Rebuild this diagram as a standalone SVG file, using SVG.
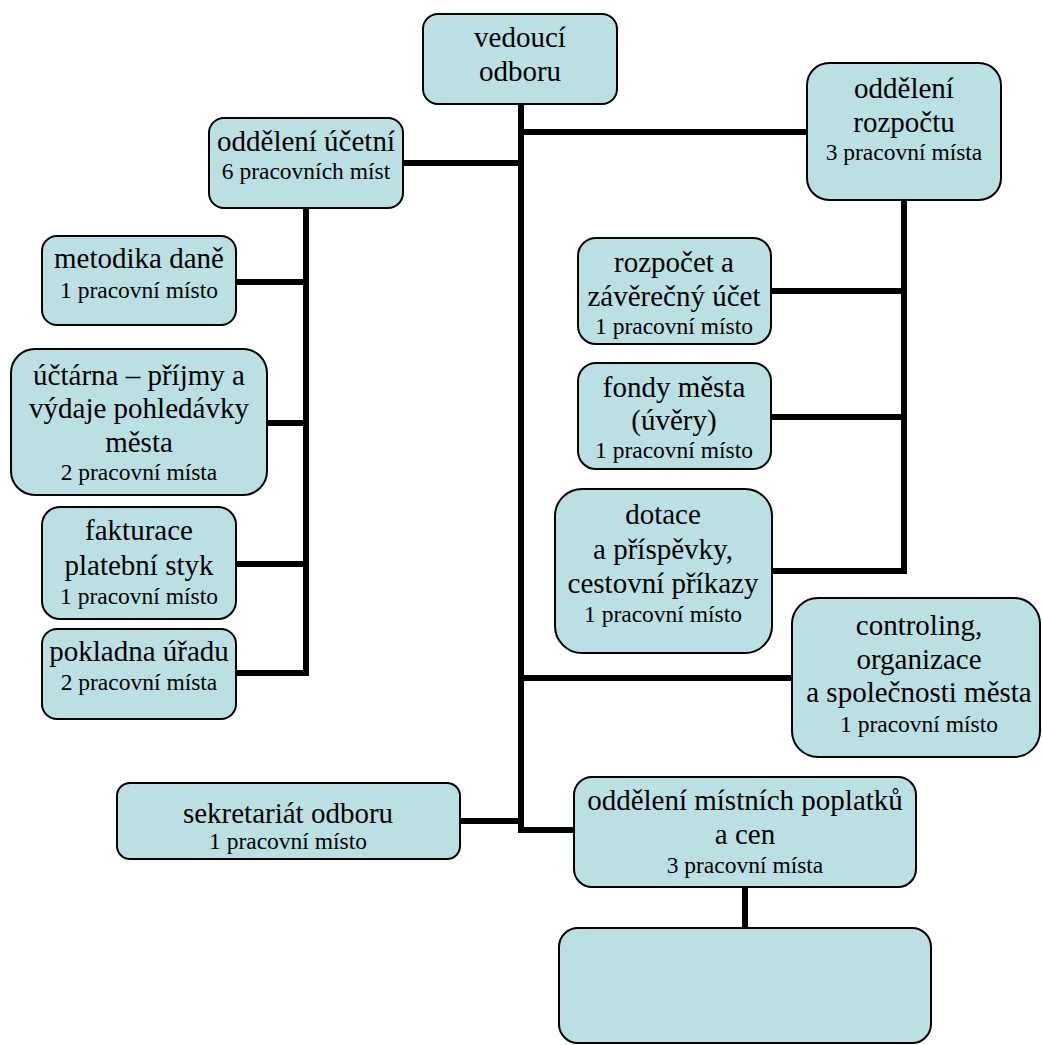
<svg xmlns="http://www.w3.org/2000/svg" width="1042" height="1045" viewBox="0 0 1042 1045">
<style>
.box{fill:#BBE0E3;stroke:#000;stroke-width:2}
.c{fill:none;stroke:#000;stroke-width:6;stroke-linejoin:miter;stroke-linecap:butt}
.lbl{fill:#000;text-anchor:middle;font-family:'Liberation Serif','Times New Roman',serif}
.big{font-size:29px}
.small{font-size:23.5px}
</style>
<rect width="1042" height="1045" fill="#fff"/>
<g id="connectors">
<path class="c" d="M521 104 V830 H574"/>
<path class="c" d="M521 132 H807"/>
<path class="c" d="M403 163 H521"/>
<path class="c" d="M306 208 V673 H236"/>
<path class="c" d="M236 282 H306"/>
<path class="c" d="M267 423 H306"/>
<path class="c" d="M236 564 H306"/>
<path class="c" d="M904 200 V571 H772"/>
<path class="c" d="M771 291 H904"/>
<path class="c" d="M771 417 H904"/>
<path class="c" d="M521 678 H792"/>
<path class="c" d="M460 821 H521"/>
<path class="c" d="M745 887 V928"/>
</g>
<g id="vedouci">
<rect class="box" x="423" y="14" width="194" height="90" rx="15"/>
<text class="lbl big" x="520" y="47">vedoucí</text>
<text class="lbl big" x="520" y="81">odboru</text>
</g>
<g id="rozpoctu">
<rect class="box" x="807" y="63" width="194" height="137" rx="22"/>
<text class="lbl big" x="904" y="98">oddělení</text>
<text class="lbl big" x="904" y="132">rozpočtu</text>
<text class="lbl small" x="904" y="160">3 pracovní místa</text>
</g>
<g id="ucetni">
<rect class="box" x="209" y="118" width="194" height="90" rx="15"/>
<text class="lbl big" x="306" y="151">oddělení účetní</text>
<text class="lbl small" x="306" y="179">6 pracovních míst</text>
</g>
<g id="metodika">
<rect class="box" x="42" y="236" width="194" height="89" rx="15"/>
<text class="lbl big" x="139" y="268">metodika daně</text>
<text class="lbl small" x="139" y="298">1 pracovní místo</text>
</g>
<g id="uctarna">
<rect class="box" x="11" y="349" width="256" height="146" rx="24"/>
<text class="lbl big" x="139" y="385">účtárna – příjmy a</text>
<text class="lbl big" x="139" y="418">výdaje pohledávky</text>
<text class="lbl big" x="139" y="452">města</text>
<text class="lbl small" x="139" y="480">2 pracovní místa</text>
</g>
<g id="fakturace">
<rect class="box" x="42" y="507" width="194" height="112" rx="18"/>
<text class="lbl big" x="139" y="540">fakturace</text>
<text class="lbl big" x="139" y="575">platební styk</text>
<text class="lbl small" x="139" y="604">1 pracovní místo</text>
</g>
<g id="pokladna">
<rect class="box" x="42" y="629" width="194" height="90" rx="15"/>
<text class="lbl big" x="139" y="661">pokladna úřadu</text>
<text class="lbl small" x="139" y="690">2 pracovní místa</text>
</g>
<g id="sekretariat">
<rect class="box" x="117" y="783" width="343" height="76" rx="13"/>
<text class="lbl big" x="288" y="823">sekretariát odboru</text>
<text class="lbl small" x="288" y="849">1 pracovní místo</text>
</g>
<g id="rozpocet">
<rect class="box" x="578" y="238" width="193" height="106" rx="18"/>
<text class="lbl big" x="674" y="272">rozpočet a</text>
<text class="lbl big" x="674" y="306">závěrečný účet</text>
<text class="lbl small" x="674" y="334">1 pracovní místo</text>
</g>
<g id="fondy">
<rect class="box" x="578" y="363" width="193" height="106" rx="18"/>
<text class="lbl big" x="674" y="397">fondy města</text>
<text class="lbl big" x="674" y="430">(úvěry)</text>
<text class="lbl small" x="674" y="458">1 pracovní místo</text>
</g>
<g id="dotace">
<rect class="box" x="555" y="489" width="217" height="164" rx="27"/>
<text class="lbl big" x="663" y="524">dotace</text>
<text class="lbl big" x="663" y="559">a příspěvky,</text>
<text class="lbl big" x="663" y="593">cestovní příkazy</text>
<text class="lbl small" x="663" y="622">1 pracovní místo</text>
</g>
<g id="controling">
<rect class="box" x="792" y="598" width="248" height="159" rx="26"/>
<text class="lbl big" x="919" y="635">controling,</text>
<text class="lbl big" x="919" y="669">organizace</text>
<text class="lbl big" x="919" y="702">a společnosti města</text>
<text class="lbl small" x="919" y="732">1 pracovní místo</text>
</g>
<g id="poplatky">
<rect class="box" x="574" y="777" width="342" height="110" rx="18"/>
<text class="lbl big" x="745" y="810">oddělení místních poplatků</text>
<text class="lbl big" x="745" y="844">a cen</text>
<text class="lbl small" x="745" y="873">3 pracovní místa</text>
</g>
<g id="prazdny">
<rect class="box" x="559" y="928" width="372" height="115" rx="19"/>
</g>
</svg>
